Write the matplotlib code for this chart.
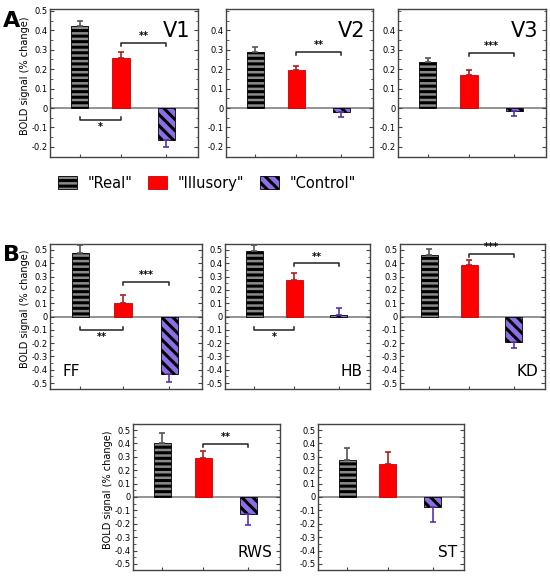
import numpy as np
import matplotlib
matplotlib.use('Agg')
import matplotlib.pyplot as plt
from matplotlib.patches import Patch
from matplotlib.ticker import MultipleLocator

plt.rcParams['font.family'] = 'DejaVu Sans'
plt.rcParams['hatch.linewidth'] = 2.2

conditions = ['"Real"', '"Illusory"', '"Control"']
xpos = [1, 2, 3.1]

# panel A (early visual areas)
v1_mean = [0.42, 0.26, -0.165]
v1_err = [0.03, 0.03, 0.035]
v2_mean = [0.29, 0.195, -0.02]
v2_err = [0.022, 0.02, 0.025]
v3_mean = [0.235, 0.17, -0.015]
v3_err = [0.025, 0.025, 0.025]

# panel B (single subjects)
ff_mean = [0.475, 0.105, -0.43]
ff_err = [0.065, 0.055, 0.065]
hb_mean = [0.49, 0.275, 0.015]
hb_err = [0.05, 0.05, 0.05]
kd_mean = [0.46, 0.385, -0.195]
kd_err = [0.045, 0.04, 0.045]
rws_mean = [0.405, 0.29, -0.13]
rws_err = [0.07, 0.055, 0.08]
st_mean = [0.275, 0.25, -0.075]
st_err = [0.09, 0.085, 0.11]

# significance brackets: (bar a, bar b, y, stars)
v1_sig = [(1, 2, 0.335, '**'), (0, 1, -0.06, '*')]
v2_sig = [(1, 2, 0.29, '**')]
v3_sig = [(1, 2, 0.285, '***')]
ff_sig = [(1, 2, 0.26, '***'), (0, 1, -0.1, '**')]
hb_sig = [(1, 2, 0.4, '**'), (0, 1, -0.1, '*')]
kd_sig = [(1, 2, 0.47, '***')]
rws_sig = [(1, 2, 0.395, '**')]
st_sig = []

face = ['#8a8a8a', '#ff0000', '#8c6ee6']
edge = ['#000000', '#cc0000', '#000000']
hatches = ['---', None, chr(92) * 3]
errc = ['#555555', '#aa1f1f', '#5533aa']

W, H = 550, 578
fig = plt.figure(figsize=(W / 100, H / 100), dpi=100)


def make_ax(l, t, r, b):
    return fig.add_axes([l / W, 1 - b / H, (r - l) / W, (b - t) / H])


def draw(ax, mean, err, sig, name, ylim, yticks, name_pos, ylabel, tick):
    for i in range(3):
        ax.bar(xpos[i], mean[i], width=0.42, color=face[i], edgecolor=edge[i],
               hatch=hatches[i], linewidth=0.6, zorder=2)
        if mean[i] >= 0:
            yerr = [[0], [err[i]]]
        else:
            yerr = [[err[i]], [0]]
        ax.errorbar(xpos[i], mean[i], yerr=yerr, fmt='none', ecolor=errc[i],
                    elinewidth=1.2, capsize=2.2, capthick=1.2, zorder=3)
    ax.axhline(0, color='#8a8a8a', lw=1.3, zorder=1)
    for a, b, y, s in sig:
        x1, x2 = xpos[a], xpos[b]
        if y > 0:
            ax.plot([x1, x1, x2, x2], [y - tick, y, y, y - tick], color='#222222', lw=1.1)
            ax.text((x1 + x2) / 2, y + tick * 0.6, s, ha='center', va='bottom',
                    fontsize=7, fontweight='bold')
        else:
            ax.plot([x1, x1, x2, x2], [y + tick, y, y, y + tick], color='#222222', lw=1.1)
            ax.text((x1 + x2) / 2, y - tick * 0.8, s, ha='center', va='top',
                    fontsize=7, fontweight='bold')
    ax.set_xlim(0.28, 3.87)
    ax.set_ylim(*ylim)
    ax.set_xticks(xpos)
    ax.set_xticklabels([])
    ax.set_yticks(yticks)
    ax.set_yticklabels(['0' if abs(v) < 1e-9 else f'{v:.1f}' for v in yticks])
    ax.yaxis.set_minor_locator(MultipleLocator(0.05))
    ax.tick_params(axis='y', which='both', direction='in', left=True, right=True,
                   labelsize=6, pad=1.5, color='#444444')
    ax.tick_params(axis='y', which='major', length=3)
    ax.tick_params(axis='y', which='minor', length=1.8)
    ax.tick_params(axis='x', direction='in', length=2.5, color='#444444')
    for sp in ax.spines.values():
        sp.set_color('#444444')
        sp.set_linewidth(1.0)
    if ylabel:
        ax.set_ylabel('BOLD signal (% change)', fontsize=7)
        ax.yaxis.set_label_coords(-20 / (ax.bbox.width), 0.55)
    if name_pos == 'top':
        ax.text(0.95, 0.92, name, transform=ax.transAxes, ha='right', va='top', fontsize=15)
    elif name_pos == 'left':
        ax.text(0.08, 0.07, name, transform=ax.transAxes, ha='left', va='bottom', fontsize=11)
    else:
        ax.text(0.95, 0.07, name, transform=ax.transAxes, ha='right', va='bottom', fontsize=11)


ylim_a = (-0.252, 0.51)
ticks_a1 = np.round(np.arange(-0.2, 0.51, 0.1), 2)
ticks_a2 = np.round(np.arange(-0.2, 0.41, 0.1), 2)
ylim_b = (-0.545, 0.545)
ticks_b = np.round(np.arange(-0.5, 0.51, 0.1), 2)

draw(make_ax(50, 9, 198, 157), v1_mean, v1_err, v1_sig, 'V1', ylim_a, ticks_a1, 'top', True, 0.015)
draw(make_ax(226, 9, 373, 157), v2_mean, v2_err, v2_sig, 'V2', ylim_a, ticks_a2, 'top', False, 0.015)
draw(make_ax(398, 9, 546, 157), v3_mean, v3_err, v3_sig, 'V3', ylim_a, ticks_a2, 'top', False, 0.015)

draw(make_ax(50, 244, 202, 389), ff_mean, ff_err, ff_sig, 'FF', ylim_b, ticks_b, 'left', True, 0.022)
draw(make_ax(225, 244, 370, 389), hb_mean, hb_err, hb_sig, 'HB', ylim_b, ticks_b, 'right', False, 0.022)
draw(make_ax(400, 244, 545, 389), kd_mean, kd_err, kd_sig, 'KD', ylim_b, ticks_b, 'right', False, 0.022)
draw(make_ax(133, 424, 280, 570), rws_mean, rws_err, rws_sig, 'RWS', ylim_b, ticks_b, 'right', True, 0.022)
draw(make_ax(318, 424, 464, 570), st_mean, st_err, st_sig, 'ST', ylim_b, ticks_b, 'right', False, 0.022)

handles = [Patch(facecolor=face[i], edgecolor=edge[i], hatch=hatches[i], linewidth=0.6)
           for i in range(3)]
fig.legend(handles, conditions, loc='center', bbox_to_anchor=(207 / W, 1 - 183 / H),
           ncol=3, frameon=False, fontsize=10.5, handlelength=1.3, handleheight=0.9,
           handletextpad=0.7, columnspacing=1.1)

fig.text(3 / W, 1 - 27 / H, 'A', fontsize=16, fontweight='bold', ha='left', va='baseline')
fig.text(3 / W, 1 - 261 / H, 'B', fontsize=16, fontweight='bold', ha='left', va='baseline')

fig.savefig('out.png', dpi=100)
